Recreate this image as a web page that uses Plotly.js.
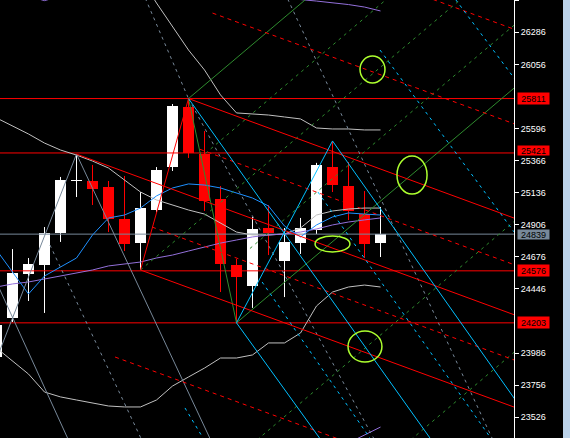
<!DOCTYPE html>
<html><head><meta charset="utf-8">
<script src="https://cdn.plot.ly/plotly-3.0.1.min.js"></script>
<style>html,body{margin:0;padding:0;background:#000;}#chart{width:570px;height:438px;}</style>
</head><body><div id="chart"></div>
<script>
// ---- bars (index), OHLC ----
const bars  = [0,1,2,3,4,5,6,7,8,9,10,11,12,13,14,15,16,17,18,19,20,21,22,23,24];
const open  = [23958,24238,24553,24618,24847,25220,25220,25177,24947,24775,25012,25320,25750,25413,25091,24618,24467,24883,24646,24775,24869,25320,25184,24983,24775];
const high  = [24230,24732,24668,24890,25249,25413,25335,25220,25256,25141,25320,25772,25811,25578,25184,24661,24962,25048,24883,24955,25350,25507,25356,25148,25034];
const low   = [23930,24209,24360,24274,24783,25105,25048,24854,24718,24582,24995,25292,25385,25005,24424,24203,24310,24689,24388,24697,24840,25141,24940,24668,24675];
const close = [24188,24560,24625,24847,25227,25227,25163,24947,24768,25026,25299,25758,25421,25077,24625,24532,24876,24847,24783,24883,25335,25191,25005,24768,24839];

// ---- indicators ----
const bbMid   = [25672,25614,25557,25492,25442,25406,25363,25313,25227,25141,25084,25048,25012,24983,24919,24854,24833,24833,24840,24883,24976,25005,25019,25026,25026];
const bbLow   = [24023,23930,23836,23707,23672,23650,23628,23607,23600,23600,23650,23750,23815,23879,23951,23951,23973,24059,24059,24130,24324,24424,24460,24474,24460];
const bbUp    = [27321,27298,27278,27277,27212,27162,27098,27019,26854,26682,26496,26324,26159,26016,25837,25708,25700,25693,25679,25665,25600,25593,25593,25586,25586];
const maFast  = [24725,24568,24410,24539,24603,24668,24833,24955,24976,25026,25113,25170,25199,25191,25170,25134,25098,25041,24897,24819,24905,24962,24991,24983,24976];
const maSlow  = [24460,24482,24496,24517,24539,24560,24582,24611,24625,24639,24668,24689,24718,24747,24775,24797,24819,24833,24840,24854,24876,24905,24926,24941,24955];
const envTopA = [[2,26545],[3,26513],[4,26545]];
const envTopB = [[17,26560],[18,26539],[19,26521],[20,26510],[21,26500],[22,26485],[23,26467],[24,26439]];
const envBot  = [[22,23342],[23,23399],[24,23456]];

// ---- price levels ----
const redLevels  = [25811, 25421, 24576, 24203];
const grayLevel  = 24839;
const yTicks = [23526,23756,23986,24446,24676,24906,25136,25366,25596,26056,26286,26516];

// ---- drawn objects: [bar, price] anchors ----
const redSolid = [[[12,25811],[32.4,24952]], [[5,25413],[32.4,24259]], [[9,24582],[32.4,23597]], [[9,24582],[12,25811]]];
const redDash  = [[[13.5,26424],[32.4,25628]], [[24,26660],[32.4,26306]], [[12.72,25447],[32.4,24618]], [[9.72,24890],[32.4,23935]], [[7.41,23958],[21.5,23365]]];
const greenSolid = [[[12,25811],[15,24203]], [[12,25811],[19.4,26529]], [[15,24203],[32.4,25891]]];
const greenDash  = [[[9,24582],[29.3,26550]], [[12.72,25385],[24.6,26545]], [[15.84,24736],[32.4,26342]], [[16.3,23365],[32.4,24935]], [[25.9,23365],[32.4,23997]]];
const cyanSolid  = [[[12,25811],[27.2,23360]], [[15,24203],[21,25507]], [[15,24203],[20.3,23360]], [[21,25507],[32.4,23655]]];
const cyanDash   = [[[23.97,26159],[32.4,24847]], [[28.7,26520],[32.4,25950]], [[20.09,25141],[30.84,23385]], [[16.6,24496],[23.34,23377]], [[11.78,23593],[12.91,23377]]];
const slateSolid = [[[5,25413],[13.4,23360]], [[5,25413],[0.1,23973]], [[0.1,24469],[4.45,23375]]];
const slateDash  = [[[9.3,26530],[12,25811]], [[3.34,24761],[9.05,23370]], [[18.2,26525],[31,23370]], [[12,25811],[23.6,23370]]];
const ellipses = [[22.72,24.28,25923,26116],[25.03,26.91,25127,25399],[19.91,22.09,24711,24826],[21.97,24.09,23922,24145]];

const X0 = 0.1, X1 = 32.4;

function group(lines, color, dash, w) {
  const x = [], y = [];
  lines.forEach(l => { l.forEach(p => { x.push(p[0]); y.push(p[1]); }); x.push(null); y.push(null); });
  return {type:'scatter', mode:'lines', x, y, hoverinfo:'skip', line:{color, width:w||1, dash:dash||'solid'}};
}
function series(vals, color) {
  return {type:'scatter', mode:'lines', x:bars, y:vals, hoverinfo:'skip', line:{color, width:1}};
}

const traces = [];
const up = bars.filter(i => close[i] >= open[i]);
const dn = bars.filter(i => close[i] < open[i]);
function wick(idx, color) {
  const x = [], y = [];
  idx.forEach(i => { x.push(i, i, null); y.push(low[i], high[i], null); });
  return {type:'scatter', mode:'lines', x, y, hoverinfo:'skip', line:{color, width:1}};
}
traces.push(wick(up, '#ffffff'), wick(dn, '#ff0000'));
traces.push({type:'bar', x:up, base:up.map(i=>open[i]), y:up.map(i=>Math.max(close[i]-open[i],7)), width:0.6875, marker:{color:'#ffffff', line:{width:0}}, hoverinfo:'skip'});
traces.push({type:'bar', x:dn, base:dn.map(i=>close[i]), y:dn.map(i=>open[i]-close[i]), width:0.6875, marker:{color:'#ff0000', line:{width:0}}, hoverinfo:'skip'});

traces.push(group(redLevels.map(v => [[X0,v],[X1,v]]), '#ff0000'));
traces.push(group([[[X0,grayLevel],[X1,grayLevel]]], '#778899'));

traces.push(series(bbUp, '#c0c0c0'), series(bbMid, '#c0c0c0'), series(bbLow, '#c0c0c0'));
traces.push(series(maSlow, '#9370db'), series(maFast, '#1e90ff'));
traces.push(group([envTopA, envTopB, envBot], '#9370db'));

traces.push(group(slateSolid, '#778899'));
traces.push(group(slateDash, '#778899', '3px,4px'));
traces.push(group(greenDash, '#2e8b2e', '3px,4px'));
traces.push(group(greenSolid, '#2e8b2e'));
traces.push(group(redDash, '#ff0000', '4px,4px'));
traces.push(group(redSolid, '#ff0000'));
traces.push(group(cyanDash, '#00bfff', '3px,4px'));
traces.push(group(cyanSolid, '#00bfff'));

const shapes = ellipses.map(e => ({type:'circle', xref:'x', yref:'y', x0:e[0], x1:e[1], y0:e[2], y1:e[3], line:{color:'#adff2f', width:1.5}, fillcolor:'rgba(0,0,0,0)'}));
shapes.push({type:'rect', xref:'paper', yref:'paper', x0:563/514, x1:1.12, y0:0, y1:1, fillcolor:'#bcd3ea', line:{width:0}, layer:'above'});

const FONT = 'Liberation Sans, Arial, sans-serif';
const label = (v, bg, h, shift) => ({xref:'paper', x:517/514, xanchor:'left', yref:'y', y:v, yanchor:'middle', yshift:shift||0, text:String(v), width:31, height:h, align:'center', valign:'middle', showarrow:false, bgcolor:bg, borderpad:0, font:{family:FONT, size:9, color:'#000'}});
const annotations = redLevels.map(v => v === 25421 ? label(v, '#ff0000', 9, 2) : label(v, '#ff0000', 11, 0));
annotations.push(label(grayLevel, '#778899', 9, 0));

const layout = {
  width:570, height:438,
  margin:{l:0, r:56, t:0, b:0, pad:0},
  paper_bgcolor:'#000', plot_bgcolor:'#000',
  showlegend:false, barmode:'overlay', bargap:0,
  xaxis:{range:[0.21875, 32.34375], visible:false, fixedrange:true},
  yaxis:{side:'right', range:[23377.5, 26517.6], tickvals:yTicks, ticktext:yTicks.map(String),
         ticks:'outside', ticklen:4, tickwidth:1, tickcolor:'#fff', showline:true, linecolor:'#fff', linewidth:1,
         showgrid:false, zeroline:false, fixedrange:true, tickfont:{family:FONT, size:9, color:'#fff'}},
  shapes, annotations
};
Plotly.newPlot('chart', traces, layout, {staticPlot:true, displayModeBar:false});
</script></body></html>
